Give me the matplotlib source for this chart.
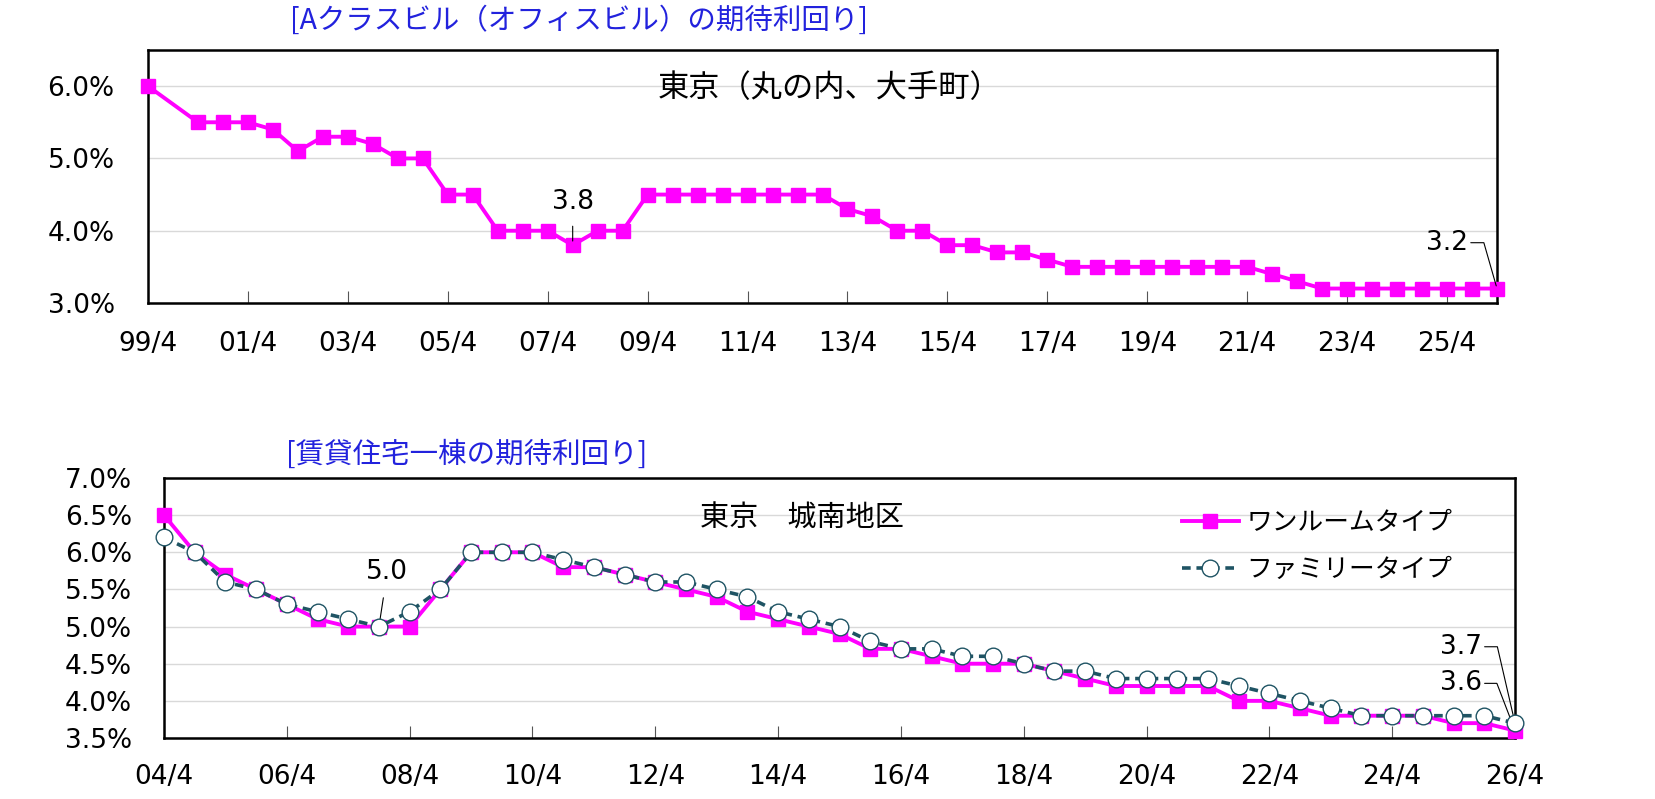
import matplotlib
matplotlib.use('Agg')
import matplotlib.pyplot as plt
from matplotlib.ticker import FuncFormatter

plt.rcParams['font.family'] = ['DejaVu Sans', 'Noto Sans CJK JP']
JP = ['Noto Sans CJK JP', 'DejaVu Sans']

# Aクラスビル（丸の内、大手町）
office_dates = ("99/4 00/4 00/10 01/4 01/10 02/4 02/10 03/4 03/10 04/4 04/10 05/4 05/10 "
                "06/4 06/10 07/4 07/10 08/4 08/10 09/4 09/10 10/4 10/10 11/4 11/10 12/4 12/10 "
                "13/4 13/10 14/4 14/10 15/4 15/10 16/4 16/10 17/4 17/10 18/4 18/10 19/4 19/10 "
                "20/4 20/10 21/4 21/10 22/4 22/10 23/4 23/10 24/4 24/10 25/4 25/10 26/4").split()
office_yield = [6.0, 5.5, 5.5, 5.5, 5.4, 5.1, 5.3, 5.3, 5.2, 5.0, 5.0, 4.5, 4.5,
                4.0, 4.0, 4.0, 3.8, 4.0, 4.0, 4.5, 4.5, 4.5, 4.5, 4.5, 4.5, 4.5, 4.5,
                4.3, 4.2, 4.0, 4.0, 3.8, 3.8, 3.7, 3.7, 3.6, 3.5, 3.5, 3.5, 3.5, 3.5,
                3.5, 3.5, 3.5, 3.4, 3.3, 3.2, 3.2, 3.2, 3.2, 3.2, 3.2, 3.2, 3.2]
office_ticks = "99/4 01/4 03/4 05/4 07/4 09/4 11/4 13/4 15/4 17/4 19/4 21/4 23/4 25/4".split()

# 賃貸住宅一棟（城南地区）
resi_dates = ("04/4 04/10 05/4 05/10 06/4 06/10 07/4 07/10 08/4 08/10 09/4 09/10 10/4 10/10 "
              "11/4 11/10 12/4 12/10 13/4 13/10 14/4 14/10 15/4 15/10 16/4 16/10 17/4 17/10 "
              "18/4 18/10 19/4 19/10 20/4 20/10 21/4 21/10 22/4 22/10 23/4 23/10 24/4 24/10 "
              "25/4 25/10 26/4").split()
oneroom_yield = [6.5, 6.0, 5.7, 5.5, 5.3, 5.1, 5.0, 5.0, 5.0, 5.5, 6.0, 6.0, 6.0, 5.8,
                 5.8, 5.7, 5.6, 5.5, 5.4, 5.2, 5.1, 5.0, 4.9, 4.7, 4.7, 4.6, 4.5, 4.5,
                 4.5, 4.4, 4.3, 4.2, 4.2, 4.2, 4.2, 4.0, 4.0, 3.9, 3.8, 3.8, 3.8, 3.8,
                 3.7, 3.7, 3.6]
family_yield = [6.2, 6.0, 5.6, 5.5, 5.3, 5.2, 5.1, 5.0, 5.2, 5.5, 6.0, 6.0, 6.0, 5.9,
                5.8, 5.7, 5.6, 5.6, 5.5, 5.4, 5.2, 5.1, 5.0, 4.8, 4.7, 4.7, 4.6, 4.6,
                4.5, 4.4, 4.4, 4.3, 4.3, 4.3, 4.3, 4.2, 4.1, 4.0, 3.9, 3.8, 3.8, 3.8,
                3.8, 3.8, 3.7]
resi_ticks = "04/4 06/4 08/4 10/4 12/4 14/4 16/4 18/4 20/4 22/4 24/4 26/4".split()

MAGENTA = '#FF00FF'
TEAL = '#1F5464'
BLUE = '#2222DD'


def to_year(s):
    yy, m = s.split('/')
    yy = int(yy)
    return (1900 + yy if yy > 50 else 2000 + yy) + (int(m) - 1) / 12


def style_axes(ax, ticks, yticks, ylim, ypad, xpad):
    ax.set_xlim(to_year(ticks[0]), to_year('26/4'))
    ax.set_xticks([to_year(t) for t in ticks])
    ax.set_xticklabels(ticks)
    ax.set_ylim(*ylim)
    ax.set_yticks(yticks)
    ax.yaxis.set_major_formatter(FuncFormatter(lambda v, p: f"{v:.1f}%"))
    ax.tick_params(axis='x', direction='in', length=9, width=0.8, color='#555555',
                   labelsize=19, pad=xpad)
    ax.tick_params(axis='y', length=0, labelsize=19, pad=ypad)
    ax.grid(axis='y', color='#D9D9D9', linewidth=1.0)
    ax.set_axisbelow(True)
    for sp in ax.spines.values():
        sp.set_color('black')
        sp.set_linewidth(1.8)


fig = plt.figure(figsize=(16.55, 7.99), dpi=100)

# ---- 上段：オフィスビル ----
ax1 = fig.add_axes([148 / 1655, 1 - 303 / 799, 1349 / 1655, 253 / 799])
style_axes(ax1, office_ticks, [3.0, 4.0, 5.0, 6.0], (3.0, 6.5), 24, 20)
ox = [to_year(d) for d in office_dates]
ax1.plot(ox, office_yield, color=MAGENTA, linewidth=2.8, marker='s', markersize=9.5,
         clip_on=False, zorder=3)
ax1.text((830 - 148) / 1349, 0.85, '東京（丸の内、大手町）', transform=ax1.transAxes,
         ha='center', va='center', fontsize=22.5, family=JP)
fig.text(579 / 1655, 1 - 21 / 799, '[Aクラスビル（オフィスビル）の期待利回り]', ha='center',
         va='center', fontsize=20.5, color=BLUE, family=JP)

ax1.annotate('3.8', xy=(ox[16], office_yield[16]), xytext=(0, 31), textcoords='offset points',
             ha='center', va='center', fontsize=19,
             arrowprops=dict(arrowstyle='-', lw=0.8, color='black', shrinkA=6, shrinkB=3))
ax1.annotate('3.2', xy=(ox[-1], office_yield[-1]), xytext=(-36, 33), textcoords='offset points',
             ha='center', va='center', fontsize=19,
             arrowprops=dict(arrowstyle='-', lw=0.8, color='black', shrinkA=0, shrinkB=2,
                             relpos=(1, 0.5),
                             connectionstyle='angle,angleA=0,angleB=106,rad=0'))

# ---- 下段：賃貸住宅 ----
ax2 = fig.add_axes([164 / 1655, 1 - 738 / 799, 1351 / 1655, 260 / 799])
style_axes(ax2, resi_ticks, [3.5, 4.0, 4.5, 5.0, 5.5, 6.0, 6.5, 7.0], (3.5, 7.0), 23, 19)
rx = [to_year(d) for d in resi_dates]
ax2.plot(rx, oneroom_yield, color=MAGENTA, linewidth=2.8, marker='s', markersize=9.5,
         clip_on=False, zorder=3, label='ワンルームタイプ')
ax2.plot(rx, family_yield, color=TEAL, linewidth=2.6, linestyle=(0, (2.4, 1.6)), marker='o',
         markersize=12, markerfacecolor='white', markeredgecolor=TEAL, markeredgewidth=1.0,
         clip_on=False, zorder=4, label='ファミリータイプ')
ax2.text(0.472, 0.845, '東京　城南地区', transform=ax2.transAxes, ha='center',
         va='center', fontsize=21, family=JP)
fig.text(467 / 1655, 1 - 455 / 799, '[賃貸住宅一棟の期待利回り]', ha='center',
         va='center', fontsize=20.5, color=BLUE, family=JP)

leg = ax2.legend(loc='upper left', bbox_to_anchor=(1182 / 1655, 1 - 510 / 799),
                 bbox_transform=fig.transFigure, frameon=False,
                 prop={'family': JP, 'size': 18.5}, handlelength=2.2, handletextpad=0.3,
                 labelspacing=0.8, borderpad=0, borderaxespad=0)

ax2.annotate('5.0', xy=(rx[7], family_yield[7]), xytext=(6, 39), textcoords='offset points',
             ha='center', va='center', fontsize=19,
             arrowprops=dict(arrowstyle='-', lw=0.8, color='black', shrinkA=7, shrinkB=2))
ax2.annotate('3.7', xy=(rx[-1], family_yield[-1]), xytext=(-39, 55), textcoords='offset points',
             ha='center', va='center', fontsize=19,
             arrowprops=dict(arrowstyle='-', lw=0.8, color='black', shrinkA=0, shrinkB=2,
                             relpos=(1, 0.5),
                             connectionstyle='angle,angleA=0,angleB=103,rad=0'))
ax2.annotate('3.6', xy=(rx[-1], oneroom_yield[-1]), xytext=(-39, 34), textcoords='offset points',
             ha='center', va='center', fontsize=19,
             arrowprops=dict(arrowstyle='-', lw=0.8, color='black', shrinkA=0, shrinkB=2,
                             relpos=(1, 0.5),
                             connectionstyle='angle,angleA=0,angleB=111,rad=0'))

fig.savefig('out.png', dpi=100, facecolor='white')
